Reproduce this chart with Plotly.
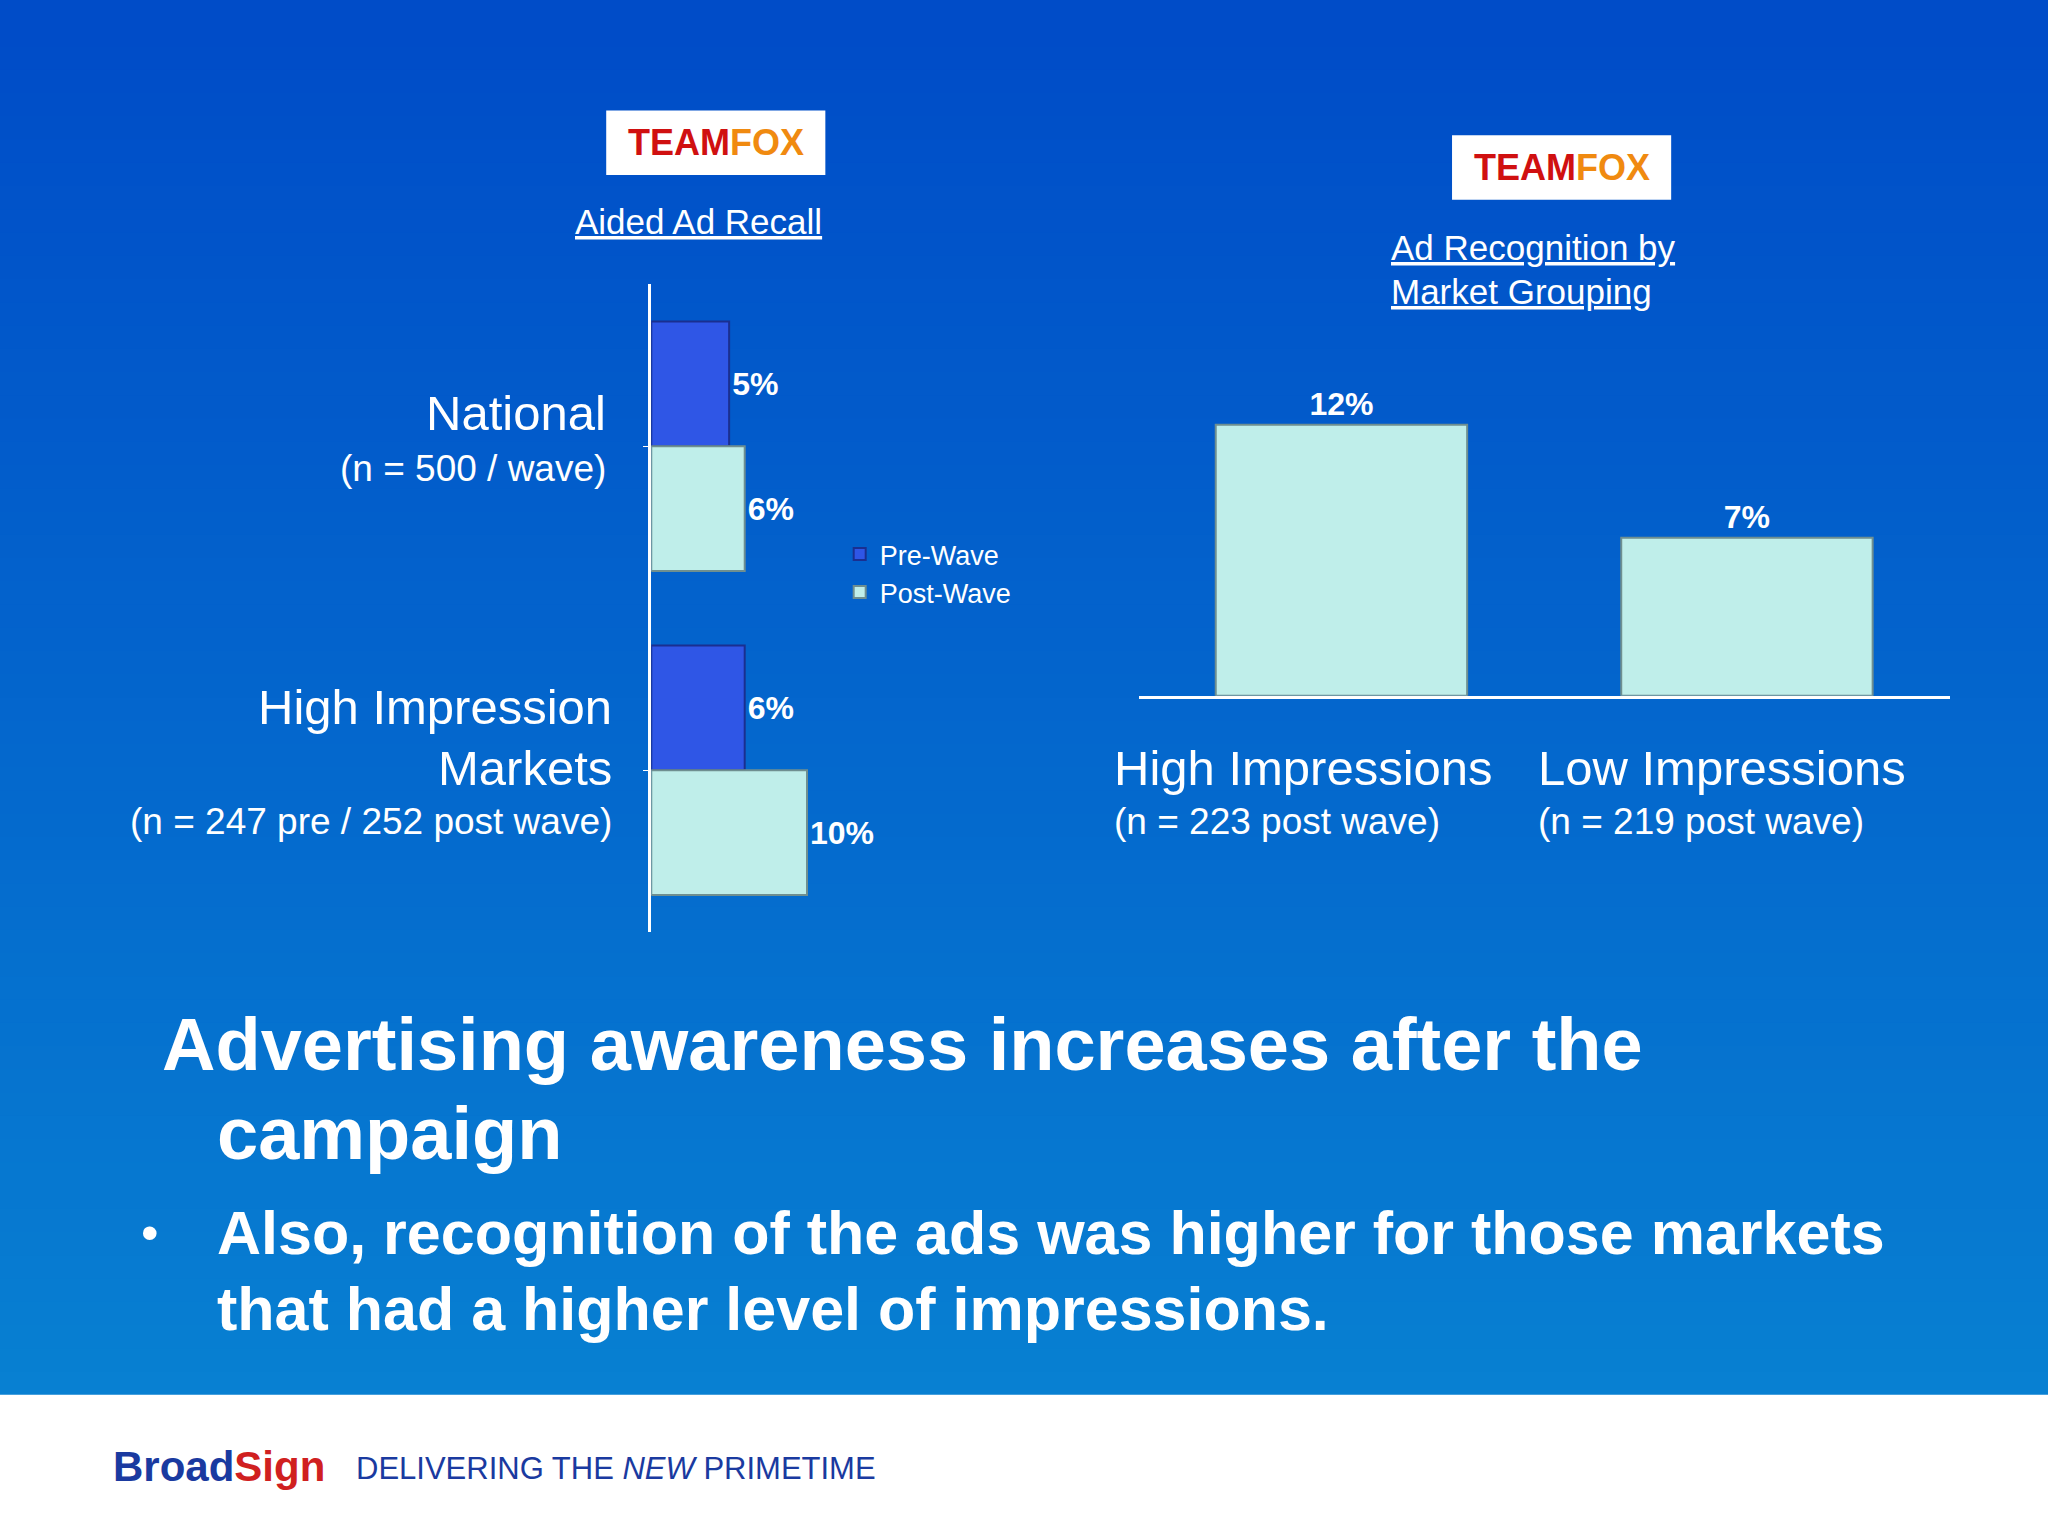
import plotly.graph_objects as go

W, H = 2048, 1536

# left chart: aided ad recall
groups = ["National", "High Impression Markets"]
pre_wave = [5, 6]
post_wave = [6, 10]

# right chart: ad recognition by market grouping
markets = ["High Impressions", "Low Impressions"]
recognition = [12, 7]

label_font = dict(color="white", size=32, family="Liberation Sans")

fig = go.Figure()

fig.add_trace(go.Bar(
    y=groups, x=pre_wave, name="Pre-Wave", orientation="h",
    marker=dict(color="#2f56e6", line=dict(color="#1a2f90", width=2)),
    texttemplate="<b>%{x}%</b>", textposition="outside", textfont=label_font,
    xaxis="x", yaxis="y", cliponaxis=False))
fig.add_trace(go.Bar(
    y=groups, x=post_wave, name="Post-Wave", orientation="h",
    marker=dict(color="#bfeeea", line=dict(color="#6f8f90", width=2)),
    texttemplate="<b>%{x}%</b>", textposition="outside", textfont=label_font,
    xaxis="x", yaxis="y", cliponaxis=False))
fig.add_trace(go.Bar(
    x=markets, y=recognition, showlegend=False,
    marker=dict(color="#bfeeea", line=dict(color="#6f8f90", width=2)),
    texttemplate="<b>%{y}%</b>", textposition="outside", textfont=label_font,
    xaxis="x2", yaxis="y2", width=0.62, cliponaxis=False))

# background gradient
shapes = []
n = 60
top, bot = (0, 76, 200), (8, 128, 210)
for i in range(n):
    t = i / (n - 1)
    c = tuple(int(top[k] + (bot[k] - top[k]) * t) for k in range(3))
    y1 = 1 - i / n * 0.908
    y0 = 1 - (i + 1) / n * 0.908
    shapes.append(dict(type="rect", xref="paper", yref="paper", x0=0, x1=1, y0=y0 - 0.001, y1=y1,
                       fillcolor="rgb(%d,%d,%d)" % c, line=dict(width=0), layer="below"))
shapes.append(dict(type="rect", xref="paper", yref="paper", x0=0, x1=1, y0=0, y1=0.092,
                   fillcolor="white", line=dict(width=0), layer="below"))
# logos
for x0, x1, y0, y1 in [(0.296, 0.403, 0.886, 0.928), (0.709, 0.816, 0.870, 0.912)]:
    shapes.append(dict(type="rect", xref="paper", yref="paper", x0=x0, x1=x1, y0=y0, y1=y1,
                       fillcolor="white", line=dict(width=0)))

ann = []
def txt(x, y, s, size, xa="left", ya="middle", bold=False, color="white"):
    if bold:
        s = "<b>" + s + "</b>"
    ann.append(dict(xref="paper", yref="paper", x=x, y=y, text=s, showarrow=False, xanchor=xa,
                    yanchor=ya, align=xa, font=dict(size=size, color=color, family="Liberation Sans")))

logo = '<span style="color:#d01010">TEAM</span><span style="color:#f08a10">FOX</span>'
txt(0.3495, 0.907, logo, 36, "center", bold=True)
txt(0.7625, 0.891, logo, 36, "center", bold=True)
txt(0.341, 0.856, "<u>Aided Ad Recall</u>", 35, "center")
txt(0.678, 0.839, "<u>Ad Recognition by</u>", 35)
txt(0.678, 0.810, "<u>Market Grouping</u>", 35)
txt(0.297, 0.731, "National", 49, "right")
txt(0.297, 0.695, "(n = 500 / wave)", 37, "right")
txt(0.300, 0.540, "High Impression", 49, "right")
txt(0.300, 0.500, "Markets", 49, "right")
txt(0.300, 0.465, "(n = 247 pre / 252 post wave)", 37, "right")
txt(0.543, 0.500, "High Impressions", 49)
txt(0.543, 0.465, "(n = 223 post wave)", 37)
txt(0.750, 0.500, "Low Impressions", 49)
txt(0.750, 0.465, "(n = 219 post wave)", 37)
txt(0.078, 0.320, "Advertising awareness increases after the", 74, bold=True)
txt(0.105, 0.262, "campaign", 74, bold=True)
txt(0.068, 0.197, "•", 50)
txt(0.105, 0.197, "Also, recognition of the ads was higher for those markets", 61, bold=True)
txt(0.105, 0.148, "that had a higher level of impressions.", 61, bold=True)
txt(0.054, 0.045, '<span style="color:#1a3aa0">Broad</span><span style="color:#d02020">Sign</span>', 42, bold=True)
txt(0.173, 0.044, "DELIVERING THE <i>NEW</i> PRIMETIME", 31, color="#1a3aa0")

fig.update_layout(
    width=W, height=H, margin=dict(l=0, r=0, t=0, b=0),
    paper_bgcolor="#0a5ccc", plot_bgcolor="rgba(0,0,0,0)",
    barmode="group", bargap=0.23, bargroupgap=0,
    shapes=shapes, annotations=ann,
    legend=dict(x=0.41, y=0.655, xanchor="left", yanchor="top", bgcolor="rgba(0,0,0,0)",
                font=dict(color="white", size=27, family="Liberation Sans"), tracegroupgap=20),
    xaxis=dict(domain=[0.318, 0.518], range=[0, 26.3], visible=False),
    yaxis=dict(domain=[0.393, 0.815], autorange="reversed", showticklabels=False,
               showline=True, linecolor="white", linewidth=3, ticks="outside", tickcolor="white",
               showgrid=False, zeroline=False),
    xaxis2=dict(domain=[0.556, 0.952], showticklabels=False, showline=True, linecolor="white",
                linewidth=3, showgrid=False, anchor="y2"),
    yaxis2=dict(domain=[0.547, 0.797], range=[0, 17], visible=False, anchor="x2"),
)

fig.write_html("out.html", config={"displayModeBar": False},
               post_script="document.body.style.margin='0';")
